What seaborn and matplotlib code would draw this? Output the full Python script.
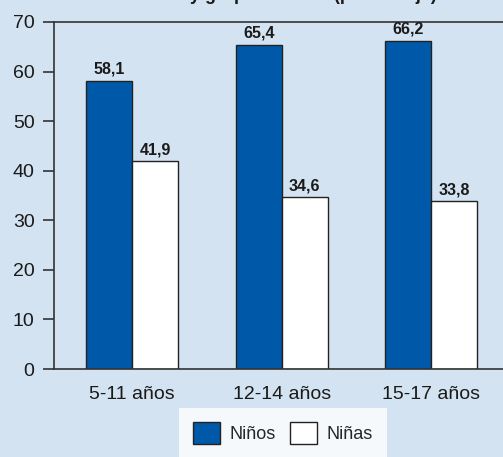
import matplotlib
matplotlib.use("Agg")
import matplotlib.pyplot as plt
import seaborn as sns
import pandas as pd
from matplotlib.patches import Patch

categories = ["5-11 años", "12-14 años", "15-17 años"]
series_names = ["Niños", "Niñas"]
ninos = [58.1, 65.4, 66.2]
ninas = [41.9, 34.6, 33.8]
yticks = [0, 10, 20, 30, 40, 50, 60, 70]

BG = "#d3e3f1"
BLUE = "#0059a8"
EDGE = "#222222"

sns.set_theme(style="white")
plt.rcParams["font.family"] = ["Liberation Sans", "DejaVu Sans"]

df = pd.DataFrame({
    "grupo": categories * 2,
    "sexo": [series_names[0]] * 3 + [series_names[1]] * 3,
    "valor": ninos + ninas,
})

fig = plt.figure(figsize=(5.03, 4.57), dpi=100, facecolor=BG)
ax = fig.add_axes([54 / 503, 1 - 369 / 457, 1 - 54 / 503, (369 - 22) / 457])
ax.set_facecolor(BG)

sns.barplot(data=df, x="grupo", y="valor", hue="sexo", order=categories,
            hue_order=series_names, palette=[BLUE, "white"], width=0.615,
            edgecolor=EDGE, linewidth=1, saturation=1, ax=ax, legend=False,
            errorbar=None)

for cont in ax.containers:
    ax.bar_label(cont, labels=[f"{v:.1f}".replace(".", ",") for v in cont.datavalues],
                 padding=3, fontsize=11.5, fontweight="bold", color="#1a1a1a")

ax.set_ylim(0, 70)
ax.set_xlim(-0.522, 2.48)
ax.set_yticks(yticks)
ax.set_xlabel("")
ax.set_ylabel("")
for s in ["left", "bottom", "top"]:
    ax.spines[s].set_visible(True)
    ax.spines[s].set_color("#333333")
    ax.spines[s].set_linewidth(1.2)
ax.spines["right"].set_visible(False)
ax.tick_params(axis="y", left=True, length=8, width=1.2, color="#333333",
               labelsize=14, pad=6, labelcolor="#1a1a1a")
ax.tick_params(axis="x", bottom=False, labelsize=14, pad=6, labelcolor="#1a1a1a")

handles = [Patch(facecolor=BLUE, edgecolor=EDGE, linewidth=1),
           Patch(facecolor="white", edgecolor=EDGE, linewidth=1)]
leg = fig.legend(handles, series_names, loc="upper center",
                 bbox_to_anchor=(283 / 503, 1 - 408 / 457), ncol=2,
                 frameon=True, fancybox=False, fontsize=13,
                 handlelength=1.5, handleheight=1.5, handletextpad=0.55,
                 columnspacing=0.75, borderpad=0.75, borderaxespad=0)
leg.get_frame().set_facecolor("white")
leg.get_frame().set_edgecolor("white")
leg.get_frame().set_linewidth(0)

fig.text(437 / 503, 1 - 0.5 / 457, "y grupo de edad (porcentaje)", ha="right",
         va="baseline", fontsize=13, fontweight="bold", color="#1a1a1a")

fig.savefig("out.png", dpi=100, facecolor=BG)
